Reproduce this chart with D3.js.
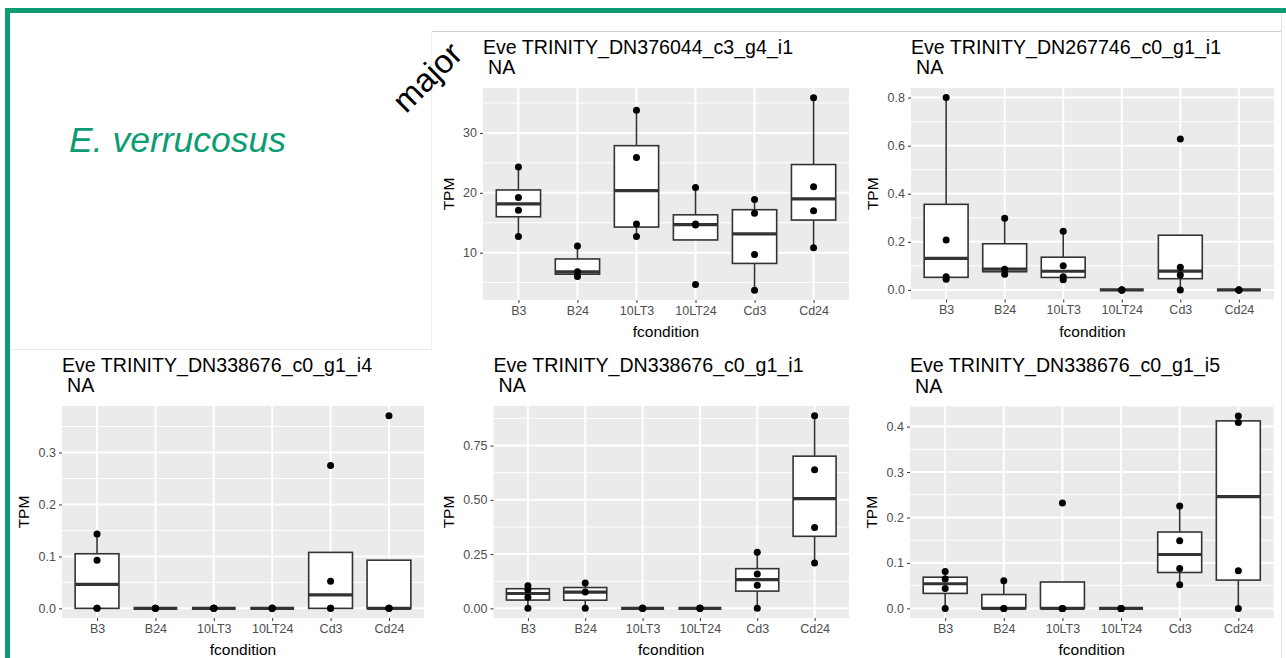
<!DOCTYPE html>
<html>
<head>
<meta charset="utf-8">
<script src="https://cdn.jsdelivr.net/npm/d3@7"></script>
<style>
body { margin: 0; background: #fff; }
svg text { font-family: "Liberation Sans", Arial, Helvetica, sans-serif; }
</style>
</head>
<body>
<script>
// conditions on the x axis, same for every gene
var categories = ["B3", "B24", "10LT3", "10LT24", "Cd3", "Cd24"];

var titles = [
	"Eve TRINITY_DN376044_c3_g4_i1",
	"Eve TRINITY_DN267746_c0_g1_i1",
	"Eve TRINITY_DN338676_c0_g1_i4",
	"Eve TRINITY_DN338676_c0_g1_i1",
	"Eve TRINITY_DN338676_c0_g1_i5"
];

// TPM per replicate, one inner list per condition
var tpm_DN376044_c3_g4_i1 = [
	[24.3, 19.2, 17.1, 12.7],
	[11.1, 6.8, 6.0],
	[33.8, 25.9, 14.8, 12.7],
	[20.9, 14.8, 14.6, 4.7],
	[18.9, 16.6, 9.7, 3.7],
	[35.9, 21.0, 17.0, 10.8]
];
var tpm_DN267746_c0_g1_i1 = [
	[0.80, 0.208, 0.055, 0.044],
	[0.298, 0.086, 0.065],
	[0.244, 0.100, 0.055, 0.042],
	[0, 0, 0, 0],
	[0.628, 0.094, 0.062, 0],
	[0, 0, 0, 0]
];
var tpm_DN338676_c0_g1_i4 = [
	[0.143, 0.0925, 0, 0],
	[0, 0, 0],
	[0, 0, 0, 0],
	[0, 0, 0, 0],
	[0.275, 0.052, 0, 0],
	[0.371, 0, 0, 0]
];
var tpm_DN338676_c0_g1_i1 = [
	[0.104, 0.086, 0.051, 0],
	[0.117, 0.075, 0],
	[0, 0, 0, 0],
	[0, 0, 0, 0],
	[0.258, 0.158, 0.106, 0],
	[0.888, 0.639, 0.373, 0.209]
];
var tpm_DN338676_c0_g1_i5 = [
	[0.081, 0.0645, 0.044, 0],
	[0.061, 0, 0],
	[0.232, 0, 0, 0],
	[0, 0, 0, 0],
	[0.225, 0.149, 0.088, 0.052],
	[0.423, 0.409, 0.083, 0]
];

// y tick labels of each plot
var yTicks1 = ["10", "20", "30"];
var yTicks2 = ["0.0", "0.2", "0.4", "0.6", "0.8"];
var yTicks3 = ["0.0", "0.1", "0.2", "0.3"];
var yTicks4 = ["0.00", "0.25", "0.50", "0.75"];
var yTicks5 = ["0.0", "0.1", "0.2", "0.3", "0.4"];

var values = [tpm_DN376044_c3_g4_i1, tpm_DN267746_c0_g1_i1, tpm_DN338676_c0_g1_i4, tpm_DN338676_c0_g1_i1, tpm_DN338676_c0_g1_i5];
var yTicks = [yTicks1, yTicks2, yTicks3, yTicks4, yTicks5];

// panel rectangles on the slide (layout only)
var panels = [
	{l: 483, t: 88, r: 849, b: 300},
	{l: 911, t: 88, r: 1274, b: 299.5},
	{l: 62, t: 406, r: 424, b: 618},
	{l: 493.5, t: 406, r: 849, b: 618},
	{l: 910, t: 406.5, r: 1273.5, b: 618}
];

var green = "#0b9c72";
var width = 1286, height = 658;

var svg = d3.select("body").append("svg")
	.attr("width", width)
	.attr("height", height);

// slide frame and the edges of the pasted images
svg.append("rect").attr("x", 0).attr("y", 0).attr("width", width).attr("height", height).attr("fill", "#fff");
svg.append("line").attr("x1", 432).attr("x2", 1281).attr("y1", 31.5).attr("y2", 31.5).attr("stroke", "#cfcfcf");
svg.append("line").attr("x1", 431.5).attr("x2", 431.5).attr("y1", 31).attr("y2", 349).attr("stroke", "#efefef");
svg.append("line").attr("x1", 10).attr("x2", 432).attr("y1", 349.5).attr("y2", 349.5).attr("stroke", "#e8e8e8");
svg.append("line").attr("x1", 1281.5).attr("x2", 1281.5).attr("y1", 13).attr("y2", height).attr("stroke", "#e2e2e2");
svg.append("rect").attr("x", 5).attr("y", 8).attr("width", 5).attr("height", height - 8).attr("fill", green);
svg.append("rect").attr("x", 5).attr("y", 8).attr("width", width - 5).attr("height", 5).attr("fill", green);

svg.append("text")
	.attr("x", 69).attr("y", 152)
	.attr("font-size", 35.5).attr("font-style", "italic")
	.attr("fill", green)
	.text("E. verrucosus");

svg.append("text")
	.attr("transform", "translate(427,77) rotate(-45)")
	.attr("text-anchor", "middle").attr("dominant-baseline", "central")
	.attr("font-size", 33)
	.text("major");

function quartiles(arr) {
	var s = arr.slice().sort(d3.ascending);
	var q1 = d3.quantileSorted(s, 0.25), med = d3.quantileSorted(s, 0.5), q3 = d3.quantileSorted(s, 0.75);
	var iqr = q3 - q1;
	var inside = s.filter(function(v){ return v >= q1 - 1.5 * iqr && v <= q3 + 1.5 * iqr; });
	return {q1: q1, med: med, q3: q3, lo: d3.min(inside), hi: d3.max(inside)};
}

panels.forEach(function(p, i) {
	var data = values[i];
	var all = d3.merge(data);
	var ext = d3.extent(all);
	var pad = (ext[1] - ext[0]) * 0.05;

	var x = d3.scalePoint().domain(categories).range([p.l, p.r]).padding(0.6);
	var y = d3.scaleLinear().domain([ext[0] - pad, ext[1] + pad]).range([p.b, p.t]);
	var tickVals = yTicks[i].map(Number);
	var step = tickVals[1] - tickVals[0];
	var minor = d3.range(tickVals[0] - step / 2, ext[1] + pad, step)
		.filter(function(v){ return v > y.domain()[0] && v < y.domain()[1]; });
	var boxW = x.step() * 0.75;

	var g = svg.append("g");

	g.append("rect")
		.attr("x", p.l).attr("y", p.t).attr("width", p.r - p.l).attr("height", p.b - p.t)
		.attr("fill", "#ebebeb");

	g.selectAll(".minor").data(minor).enter().append("line")
		.attr("x1", p.l).attr("x2", p.r)
		.attr("y1", function(d){ return y(d); }).attr("y2", function(d){ return y(d); })
		.attr("stroke", "#fff").attr("stroke-width", 1);
	g.selectAll(".major").data(tickVals).enter().append("line")
		.attr("x1", p.l).attr("x2", p.r)
		.attr("y1", function(d){ return y(d); }).attr("y2", function(d){ return y(d); })
		.attr("stroke", "#fff").attr("stroke-width", 2);
	g.selectAll(".vgrid").data(categories).enter().append("line")
		.attr("x1", function(d){ return x(d); }).attr("x2", function(d){ return x(d); })
		.attr("y1", p.t).attr("y2", p.b)
		.attr("stroke", "#fff").attr("stroke-width", 2);

	// axes
	var yAxis = g.append("g")
		.attr("transform", "translate(" + p.l + ",0)")
		.call(d3.axisLeft(y).tickValues(tickVals).tickSize(3).tickPadding(3)
			.tickFormat(function(d, k){ return yTicks[i][k]; }));
	var xAxis = g.append("g")
		.attr("transform", "translate(0," + p.b + ")")
		.call(d3.axisBottom(x).tickSize(3).tickPadding(3));
	[yAxis, xAxis].forEach(function(a) {
		a.select(".domain").remove();
		a.selectAll(".tick line").attr("stroke", "#333");
		a.selectAll(".tick text").attr("fill", "#4d4d4d").attr("font-size", 12.5)
			.style("font-family", "'Liberation Sans', Arial, sans-serif");
	});

	var labW = d3.max(yAxis.selectAll(".tick text").nodes(), function(n){ return n.getComputedTextLength(); });

	g.append("text")
		.attr("transform", "translate(" + (p.l - 6 - labW - 15) + "," + ((p.t + p.b) / 2) + ") rotate(-90)")
		.attr("text-anchor", "middle").attr("dominant-baseline", "central")
		.attr("font-size", 15.5)
		.text("TPM");
	g.append("text")
		.attr("x", (p.l + p.r) / 2).attr("y", p.b + 37)
		.attr("text-anchor", "middle")
		.attr("font-size", 15.5)
		.text("fcondition");

	g.append("text").attr("x", p.l).attr("y", p.t - 34.5).attr("font-size", 19.6).text(titles[i]);
	g.append("text").attr("x", p.l + 5).attr("y", p.t - 14).attr("font-size", 19.6).text("NA");

	// boxplots
	var stats = data.map(function(d, k){ var s = quartiles(d); s.cat = categories[k]; return s; });
	var box = g.selectAll(".box").data(stats).enter().append("g");
	box.append("line")
		.attr("x1", function(d){ return x(d.cat); }).attr("x2", function(d){ return x(d.cat); })
		.attr("y1", function(d){ return y(d.q3); }).attr("y2", function(d){ return y(d.hi); })
		.attr("stroke", "#333").attr("stroke-width", 1.6);
	box.append("line")
		.attr("x1", function(d){ return x(d.cat); }).attr("x2", function(d){ return x(d.cat); })
		.attr("y1", function(d){ return y(d.q1); }).attr("y2", function(d){ return y(d.lo); })
		.attr("stroke", "#333").attr("stroke-width", 1.6);
	box.append("rect")
		.attr("x", function(d){ return x(d.cat) - boxW / 2; })
		.attr("y", function(d){ return y(d.q3); })
		.attr("width", boxW)
		.attr("height", function(d){ return y(d.q1) - y(d.q3); })
		.attr("fill", "#fff").attr("stroke", "#333").attr("stroke-width", 1.6);
	box.append("line")
		.attr("x1", function(d){ return x(d.cat) - boxW / 2; }).attr("x2", function(d){ return x(d.cat) + boxW / 2; })
		.attr("y1", function(d){ return y(d.med); }).attr("y2", function(d){ return y(d.med); })
		.attr("stroke", "#333").attr("stroke-width", 3.2);

	var pts = [];
	data.forEach(function(d, k){ d.forEach(function(v){ pts.push({cat: categories[k], v: v}); }); });
	g.selectAll(".pt").data(pts).enter().append("circle")
		.attr("cx", function(d){ return x(d.cat); })
		.attr("cy", function(d){ return y(d.v); })
		.attr("r", 3.5)
		.attr("fill", "#000");
});
</script>
</body>
</html>
